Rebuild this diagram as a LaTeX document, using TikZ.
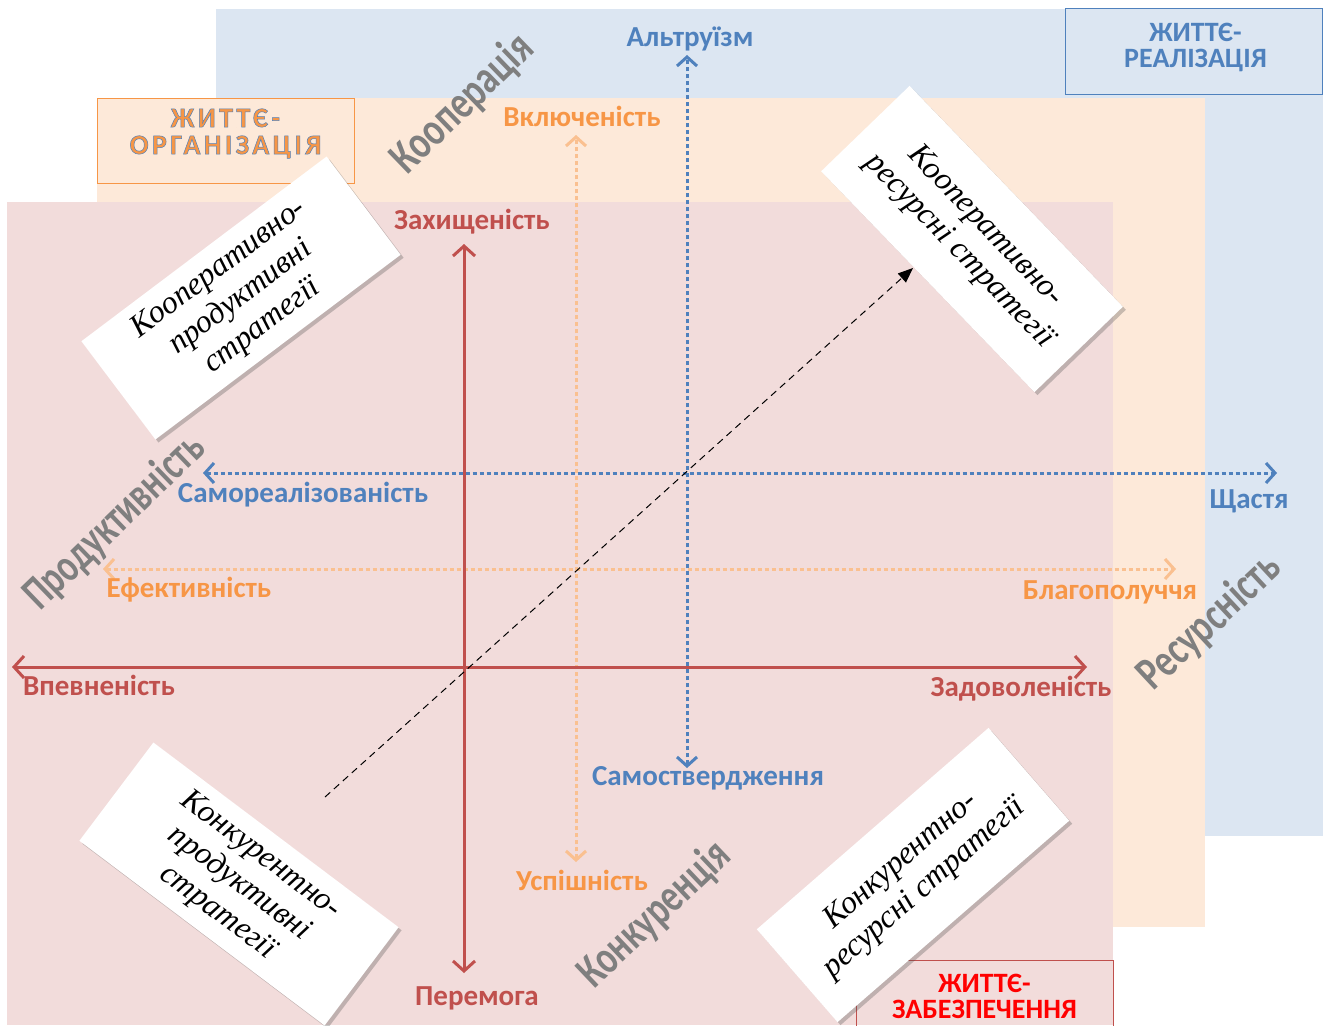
\documentclass[tikz,border=0pt]{standalone}
\usepackage{fontspec}
\setmainfont{Liberation Serif}
\newfontfamily\calib{Carlito}
\newfontfamily\calibsp[LetterSpace=12]{Carlito}
\newfontfamily\cardf{Liberation Serif}
\usepackage{graphicx}
\usetikzlibrary{arrows.meta,shadows}
\definecolor{bgblue}{HTML}{DCE6F2}
\definecolor{bgpeach}{HTML}{FDE9D9}
\definecolor{bgpink}{HTML}{F2DCDB}
\definecolor{cred}{HTML}{C0504D}
\definecolor{cblue}{HTML}{4F81BD}
\definecolor{corange}{HTML}{F79646}
\definecolor{clorange}{HTML}{FAC090}
\definecolor{cgray}{HTML}{7F7F7F}
\definecolor{bred}{HTML}{FF0000}
\newcommand\outlblue[1]{\special{pdf:literal direct 0.31 0.506 0.741 RG 0.5 w 2 Tr}#1\special{pdf:literal direct 0 Tr}}
\begin{document}
\begin{tikzpicture}[x=1pt,y=-1pt,
  lbl/.style={font=\calib\bfseries\fontsize{29}{32}\selectfont, inner sep=0pt, anchor=base},
  gw/.style={font=\calib\bfseries\fontsize{47}{52}\selectfont, text=cgray, inner sep=0pt},
  redax/.style={draw=cred, line width=3pt, {Straight Barb[length=10pt,width=22pt]}-{Straight Barb[length=10pt,width=22pt]}},
  blueax/.style={draw=cblue, line width=3pt, line cap=butt, dash pattern=on 4pt off 3pt, {Straight Barb[length=9pt,width=20pt]}-{Straight Barb[length=9pt,width=20pt]}},
  orax/.style={draw=clorange, line width=3pt, line cap=butt, dash pattern=on 4pt off 3pt, {Straight Barb[length=9pt,width=20pt]}-{Straight Barb[length=9pt,width=20pt]}},
  card/.style={fill=white, draw=none, minimum width=307pt, minimum height=123pt, align=center,
    font=\cardf\itshape\fontsize{32}{36}\selectfont, inner sep=2pt,
    drop shadow={shadow xshift=3pt, shadow yshift=-3pt, opacity=0.3, fill=black!70}},
  ttl/.style={font=\calib\bfseries\fontsize{28}{26}\selectfont, align=center, inner sep=0pt},
]
\useasboundingbox (0,0) rectangle (1330,1025);
\fill[white] (0,0) rectangle (1330,1025);
% background layers
\fill[bgblue] (216,9) rectangle (1323,836);
\fill[bgpeach] (97,98) rectangle (1205,927);
\fill[bgpink] (7,202) rectangle (1113,1025);

% title boxes
\node[draw=cblue, line width=1pt, minimum width=257pt, minimum height=85pt, inner sep=0pt] (bReal) at (1193.5,51.5) {};
\node[ttl, text=cblue] (bRealT) at (1195.5,47) {ЖИТТЄ-\\РЕАЛІЗАЦІЯ};

\node[draw=corange, fill=bgpeach, line width=1pt, minimum width=257pt, minimum height=85pt, inner sep=0pt] (bOrg) at (225.5,140.5) {};
\node[ttl, font=\calibsp\bfseries\fontsize{28}{27}\selectfont, text=corange] (bOrgT) at (225.5,133.5) {\outlblue{ЖИТТЄ-}\\\outlblue{ОРГАНІЗАЦІЯ}};

\draw[draw=cred, line width=1pt] (856,1030) |- (1113,960) -- (1113,1030);
\node[ttl, text=bred] (bZabT) at (984.5,996) {ЖИТТЄ-\\ЗАБЕЗПЕЧЕННЯ};

% axis end points
\coordinate (rL) at (12,667);  \coordinate (rR) at (1087,667);
\coordinate (rT) at (464,244); \coordinate (rB) at (464,973);
\coordinate (bT) at (687,55);  \coordinate (bB) at (687,768);
\coordinate (bL) at (203,473); \coordinate (bR) at (1277,473);
\coordinate (oT) at (576,135); \coordinate (oB) at (576,862);
\coordinate (oL) at (103,569); \coordinate (oR) at (1176,569);
\coordinate (dS) at (325,797); \coordinate (dE) at (913,268);

\draw[orax] (oB) -- (oT);
\draw[orax] (oL) -- (oR);
\draw[blueax] (bB) -- (bT);
\draw[blueax] (bL) -- (bR);
\draw[redax] (rL) -- (rR);
\draw[redax] (rB) -- (rT);

% labels
\node[lbl, text=cblue] (lAlt) at (690,47) {Альтруїзм};
\node[lbl, text=corange] (lVkl) at (582,126) {Включеність};
\node[lbl, text=cred] (lZah) at (472,229) {Захищеність};
\node[lbl, text=cblue] (lSam) at (303,502) {Самореалізованість};
\node[lbl, text=cblue] (lSch) at (1249,508) {Щастя};
\node[lbl, text=corange] (lEf) at (189,597) {Ефективність};
\node[lbl, text=corange] (lBl) at (1110,599) {Благополуччя};
\node[lbl, text=cred] (lVp) at (99,695) {Впевненість};
\node[lbl, text=cred] (lZad) at (1021,696) {Задоволеність};
\node[lbl, text=cblue] (lSst) at (708,785) {Самоствердження};
\node[lbl, text=corange] (lUsp) at (582,890) {Успішність};
\node[lbl, text=cred] (lPer) at (477,1005) {Перемога};

% grey diagonal words
\node[gw, rotate=44] (wKoop) at (463,104) {\scalebox{0.76}[1]{Кооперація}};
\node[gw, rotate=44] (wProd) at (115,522) {\scalebox{0.73}[1]{Продуктивність}};
\node[gw, rotate=43] (wRes) at (1210,622) {\scalebox{0.76}[1]{Ресурсність}};
\node[gw, rotate=43.5] (wKonk) at (655,915) {\scalebox{0.74}[1]{Конкуренція}};

% cards
\node[card, rotate=37] (c1) at (241,298) {Кооперативно-\\продуктивні\\стратегії};
\node[card, rotate=-46] (c2) at (972,239) {Кооперативно-\\ресурсні стратегії};
\node[card, rotate=-37] (c3) at (239,884) {Конкурентно-\\продуктивні\\стратегії};
\node[card, rotate=41] (c4) at (913,875) {Конкурентно-\\ресурсні стратегії};

% dashed diagonal arrow
\draw[black, line width=1pt, dash pattern=on 7pt off 5pt, -{Triangle[length=15pt,width=12pt]}] (dS) -- (dE);
\end{tikzpicture}
\end{document}
